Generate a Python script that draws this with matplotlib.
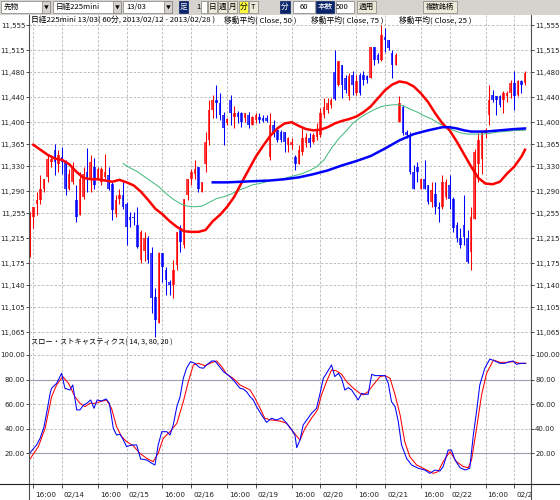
import matplotlib
matplotlib.use("Agg")
from matplotlib import pyplot as plt
from matplotlib.patches import Rectangle
from matplotlib.lines import Line2D
import matplotlib.transforms as mtransforms
import numpy as np

plt.rcParams['font.family'] = ['DejaVu Sans']
JP = ['Noto Sans CJK JP', 'DejaVu Sans']

# 60-minute bars, index 0 = first 16:00 bar (02/13)
bar_idx = np.arange(-1, 138)
opens = [11188, 11249, 11270, 11276, 11294, 11313, 11337, 11356, 11334, 11345,
         11337, 11294, 11305, 11276, 11252, 11281, 11321, 11308, 11329, 11310,
         11305, 11313, 11316, 11302, 11254, 11278, 11284, 11270, 11249, 11249,
         11236, 11180, 11195, 11215, 11191, 11121, 11079, 11191, 11164, 11145,
         11140, 11172, 11231, 11204, 11284, 11310, 11318, 11329, 11289, 11334,
         11371, 11419, 11435, 11430, 11411, 11398, 11435, 11409, 11414, 11414,
         11406, 11411, 11395, 11403, 11409, 11407, 11406, 11345, 11395, 11387,
         11385, 11385, 11364, 11364, 11345, 11334, 11353, 11366, 11374, 11369,
         11377, 11380, 11411, 11419, 11427, 11480, 11459, 11491, 11470, 11441,
         11475, 11446, 11475, 11475, 11473, 11470, 11520, 11507, 11499, 11536,
         11531, 11510, 11491, 11401, 11425, 11385, 11380, 11321, 11329, 11294,
         11310, 11300, 11273, 11286, 11265, 11265, 11281, 11300, 11278, 11236,
         11215, 11236, 11215, 11193, 11246, 11334, 11342, 11382, 11411, 11443,
         11441, 11441, 11435, 11441, 11446, 11462, 11443, 11465, 11462]
highs = [11256, 11265, 11289, 11316, 11310, 11350, 11348, 11365, 11356, 11361,
         11340, 11326, 11337, 11300, 11321, 11329, 11359, 11348, 11343, 11329,
         11329, 11349, 11329, 11305, 11284, 11294, 11305, 11273, 11257, 11257,
         11265, 11228, 11225, 11219, 11201, 11135, 11193, 11191, 11169, 11148,
         11180, 11225, 11236, 11278, 11310, 11326, 11340, 11329, 11305, 11385,
         11435, 11444, 11459, 11446, 11417, 11406, 11444, 11426, 11418, 11417,
         11414, 11417, 11410, 11414, 11414, 11411, 11411, 11414, 11403, 11390,
         11387, 11385, 11377, 11374, 11348, 11364, 11390, 11382, 11382, 11382,
         11398, 11422, 11438, 11438, 11438, 11515, 11497, 11491, 11475, 11478,
         11481, 11475, 11478, 11481, 11475, 11520, 11520, 11510, 11555, 11550,
         11531, 11515, 11510, 11441, 11427, 11387, 11385, 11332, 11337, 11310,
         11340, 11300, 11305, 11305, 11273, 11316, 11310, 11316, 11281, 11241,
         11231, 11284, 11228, 11265, 11358, 11382, 11387, 11390, 11459, 11451,
         11441, 11443, 11449, 11449, 11467, 11481, 11467, 11467, 11481]
lows = [11185, 11231, 11252, 11270, 11289, 11305, 11329, 11316, 11321, 11318,
        11284, 11292, 11302, 11241, 11252, 11278, 11289, 11289, 11294, 11308,
        11300, 11310, 11292, 11244, 11249, 11270, 11262, 11204, 11233, 11236,
        11199, 11175, 11178, 11175, 11095, 11058, 11079, 11145, 11124, 11124,
        11119, 11164, 11193, 11199, 11276, 11300, 11310, 11289, 11289, 11321,
        11364, 11406, 11406, 11403, 11364, 11395, 11395, 11390, 11398, 11393,
        11401, 11390, 11395, 11398, 11398, 11401, 11401, 11340, 11377, 11369,
        11369, 11353, 11353, 11358, 11324, 11334, 11348, 11361, 11361, 11366,
        11372, 11377, 11406, 11414, 11422, 11435, 11457, 11438, 11446, 11435,
        11443, 11443, 11443, 11459, 11462, 11470, 11491, 11494, 11497, 11512,
        11515, 11470, 11491, 11401, 11380, 11374, 11318, 11294, 11305, 11294,
        11294, 11270, 11265, 11254, 11241, 11262, 11278, 11262, 11225, 11209,
        11199, 11204, 11175, 11164, 11246, 11305, 11318, 11374, 11395, 11433,
        11411, 11425, 11414, 11433, 11438, 11419, 11441, 11446, 11459]
closes = [11252, 11265, 11276, 11294, 11310, 11342, 11342, 11337, 11348, 11337,
          11294, 11318, 11329, 11249, 11310, 11318, 11310, 11337, 11300, 11326,
          11326, 11321, 11294, 11260, 11276, 11284, 11265, 11233, 11244, 11247,
          11201, 11225, 11215, 11180, 11119, 11084, 11191, 11169, 11148, 11140,
          11164, 11225, 11209, 11278, 11310, 11321, 11325, 11294, 11305, 11369,
          11419, 11435, 11430, 11411, 11390, 11405, 11414, 11414, 11409, 11401,
          11414, 11395, 11409, 11411, 11403, 11402, 11402, 11395, 11385, 11371,
          11371, 11369, 11374, 11369, 11334, 11356, 11374, 11377, 11366, 11380,
          11388, 11414, 11424, 11430, 11435, 11437, 11497, 11459, 11451, 11473,
          11459, 11465, 11446, 11467, 11467, 11520, 11499, 11499, 11539, 11531,
          11518, 11491, 11507, 11430, 11382, 11380, 11321, 11294, 11321, 11310,
          11294, 11273, 11292, 11265, 11262, 11305, 11305, 11278, 11231, 11215,
          11204, 11217, 11177, 11249, 11353, 11371, 11385, 11387, 11435, 11435,
          11435, 11427, 11446, 11446, 11462, 11441, 11465, 11459, 11478]

# moving averages (Close 25 / 50 / 75)
ma25_x = [0, 2, 4, 6, 8, 10, 12, 14, 16, 18, 20, 22, 24, 26, 28, 30, 32, 34, 36, 38,
          40, 42, 44, 46, 48, 50, 52, 54, 56, 58, 60, 62, 64, 66, 68, 70, 72, 74, 76, 78,
          80, 82, 84, 86, 88, 90, 92, 94, 96, 98, 100, 102, 104, 106, 108, 110, 112, 114,
          116, 118, 120, 122, 124, 126, 128, 130, 132, 134, 136, 137]
ma25_v = [11364, 11356, 11348, 11342, 11340, 11333, 11321, 11311, 11309, 11309,
          11307, 11305, 11308, 11304, 11299, 11289, 11276, 11262, 11253, 11242,
          11233, 11226, 11225, 11225, 11228, 11242, 11252, 11265, 11281, 11303,
          11324, 11345, 11362, 11378, 11390, 11398, 11400, 11394, 11389, 11387,
          11388, 11392, 11398, 11402, 11405, 11409, 11416, 11425, 11438, 11451,
          11460, 11465, 11463, 11457, 11446, 11432, 11414, 11398, 11387, 11369,
          11349, 11329, 11311, 11302, 11301, 11305, 11318, 11329, 11345, 11356]
ma50_x = [25, 27, 29, 31, 33, 35, 37, 39, 41, 43, 45, 47, 49, 51, 53, 55, 57, 59, 61,
          63, 65, 67, 69, 71, 73, 75, 77, 79, 81, 83, 85, 87, 89, 91, 93, 95, 97, 99,
          101, 103, 105, 107, 109, 111, 113, 115, 117, 119, 121, 123, 125, 127, 129,
          131, 133, 135, 137]
ma50_v = [11334, 11327, 11321, 11313, 11305, 11297, 11286, 11277, 11270, 11266,
          11265, 11266, 11272, 11278, 11281, 11285, 11291, 11295, 11300, 11302,
          11305, 11308, 11309, 11312, 11315, 11318, 11323, 11329, 11340, 11358,
          11373, 11385, 11398, 11407, 11414, 11420, 11425, 11427, 11428, 11426,
          11421, 11416, 11410, 11405, 11398, 11393, 11387, 11383, 11381, 11381,
          11381, 11382, 11384, 11385, 11386, 11387, 11387]
ma75_x = [50, 54, 58, 62, 66, 70, 74, 78, 82, 86, 90, 94, 98, 102, 106, 110, 114,
          116, 118, 120, 122, 126, 130, 134, 137]
ma75_v = [11304, 11304, 11305, 11306, 11307, 11309, 11312, 11317, 11323, 11331,
          11338, 11346, 11358, 11371, 11381, 11387, 11392, 11392, 11390, 11387,
          11385, 11385, 11387, 11389, 11390]

# slow stochastics (14, 3, 80, 20)
k_x = [-1, 0.5, 0.9, 1.9, 3.0, 3.7, 4.7, 5.1, 6.5, 7.9, 8.8, 10.2, 11.0, 12.1, 13.0,
       14.0, 14.9, 16.0, 16.9, 17.8, 19.0, 20.3, 21.2, 22.3, 23.2, 24.2, 25.1, 26.0,
       27.4, 28.8, 29.9, 31.6, 33.0, 33.9, 34.8, 35.8, 37.2, 38.1, 39.0, 40.0, 40.9,
       41.8, 42.7, 43.8, 45.0, 46.4, 47.4, 48.3, 49.7, 50.6, 51.5, 53.0, 54.3, 55.7,
       57.6, 58.5, 59.4, 60.4, 61.3, 62.2, 63.6, 65.0, 66.4, 67.8, 69.2, 70.6, 72.0,
       72.9, 73.4, 74.3, 75.2, 76.2, 77.5, 78.9, 79.9, 80.8, 81.7, 83.1, 84.0, 85.0,
       85.9, 86.8, 87.8, 88.7, 89.6, 90.5, 91.5, 92.4, 93.3, 94.3, 95.2, 96.6, 98.0,
       98.9, 99.8, 100.8, 101.7, 102.6, 104.0, 105.4, 107.3, 109.1, 110.5, 111.9,
       113.3, 114.2, 115.6, 116.5, 117.5, 118.9, 120.3, 121.6, 122.6, 123.5, 124.4,
       125.8, 127.2, 128.6, 130.0, 131.4, 132.8, 133.7, 134.6, 136.0, 137.2]
k_v = [20.0, 25.4, 26.8, 32.2, 41.7, 52.5, 68.8, 72.9, 76.9, 85.1, 72.9, 71.5, 75.6,
       55.3, 55.3, 59.3, 60.7, 63.4, 56.6, 63.4, 62.6, 64.2, 60.7, 40.3, 34.9, 35.5,
       30.8, 25.4, 26.8, 26.8, 15.4, 14.6, 11.9, 10.5, 26.8, 37.6, 37.6, 34.9, 43.1,
       58.0, 66.1, 81.0, 89.2, 94.6, 93.2, 89.7, 89.2, 91.9, 95.1, 95.1, 91.9, 86.4,
       83.7, 79.7, 72.9, 72.3, 70.2, 66.1, 63.4, 58.0, 51.2, 45.2, 48.5, 47.1, 49.0,
       44.4, 39.0, 34.9, 24.6, 30.8, 43.1, 47.1, 52.5, 56.6, 68.8, 81.0, 85.1, 91.9,
       82.4, 85.1, 81.0, 71.5, 73.4, 71.5, 67.5, 63.4, 68.8, 68.0, 68.0, 84.3, 83.2,
       83.2, 83.2, 77.0, 62.0, 58.0, 45.8, 26.8, 15.9, 10.5, 7.8, 6.4, 3.7, 6.4, 5.6,
       9.2, 22.7, 22.7, 14.6, 8.3, 6.4, 7.8, 34.9, 53.9, 75.6, 89.2, 96.7, 95.1,
       93.2, 93.2, 94.6, 95.1, 92.4, 93.2, 93.2]
d_x = [-0.9, 1.4, 3.3, 5.1, 6.5, 8.2, 9.8, 11.6, 13.0, 14.4, 15.8, 17.2, 18.6, 20.4,
       21.8, 23.2, 24.6, 26.0, 27.9, 29.7, 31.6, 33.4, 34.8, 36.2, 38.1, 40.0, 41.8,
       43.2, 44.6, 46.0, 47.8, 49.7, 51.1, 52.5, 53.9, 55.7, 57.6, 60.4, 61.8, 63.2,
       64.5, 66.4, 68.7, 70.6, 72.4, 74.3, 75.7, 77.5, 79.2, 80.3, 81.7, 83.1, 84.5,
       85.9, 87.3, 89.2, 91.0, 91.9, 93.3, 94.7, 96.6, 98.0, 99.4, 100.8, 102.2,
       103.5, 104.9, 106.8, 109.6, 111.4, 112.8, 114.2, 116.1, 117.9, 119.8, 121.2,
       122.1, 123.5, 124.9, 126.3, 128.2, 130.0, 131.9, 133.7, 135.6, 137.2]
d_v = [15.4, 25.4, 40.3, 66.1, 75.6, 82.4, 77.0, 66.1, 60.7, 58.0, 60.7, 60.7, 62.0,
       63.4, 56.6, 41.7, 33.6, 29.5, 26.0, 20.0, 15.9, 13.2, 20.0, 32.2, 37.6, 44.4,
       62.0, 78.3, 91.9, 93.2, 91.3, 93.8, 95.1, 90.5, 84.3, 81.0, 75.6, 71.5, 64.7,
       56.6, 48.5, 47.1, 46.3, 44.4, 37.6, 30.8, 40.3, 48.5, 55.3, 67.5, 78.3, 87.8,
       87.0, 84.3, 78.3, 72.9, 68.8, 67.5, 70.2, 75.6, 82.4, 83.2, 81.0, 67.5, 51.2,
       29.5, 17.3, 10.5, 6.4, 3.7, 5.1, 13.2, 21.4, 13.2, 9.2, 8.3, 14.6, 40.3, 67.5,
       85.1, 95.9, 94.0, 94.0, 94.6, 93.2, 93.2]

price_ticks = [11555, 11515, 11480, 11440, 11400, 11365, 11330, 11290, 11255,
               11215, 11175, 11140, 11105, 11065]
price_labels = ['11,555', '11,515', '11,480', '11,440', '11,400', '11,365', '11,330',
                '11,290', '11,255', '11,215', '11,175', '11,140', '11,105', '11,065']
stoch_ticks = [100, 80, 60, 40, 20]
stoch_labels = ['100.00', '80.00', '60.00', '40.00', '20.00']
time_ticks = [0, 8, 18, 26, 36, 44, 54, 62, 72, 80, 90, 98, 108, 116, 126, 134]
time_labels = ['16:00', '02/14', '16:00', '02/15', '16:00', '02/16', '16:00', '02/19',
               '16:00', '02/20', '16:00', '02/21', '16:00', '02/22', '16:00', '02/2']

W, H = 560.0, 500.0
def fx(px):
    return px / W
def fy(py):
    return 1 - py / H

fig = plt.figure(figsize=(5.6, 5.0), dpi=100)
fig.patch.set_facecolor('white')

X0, X1 = 29.3, 531.0
ax = fig.add_axes([fx(X0), fy(338), fx(X1) - fx(X0), fy(15) - fy(338)])
ax2 = fig.add_axes([fx(X0), fy(484.3), fx(X1) - fx(X0), fy(338) - fy(484.3)], sharex=ax)

grid_kw = dict(color='#b4b4b4', linestyle=(0, (3, 2)), linewidth=0.6)

# candles: red = up, blue = down
o, h, l, c = map(np.array, (opens, highs, lows, closes))
col = np.where(c >= o, '#ff0000', '#0000ff')
ax.vlines(bar_idx, l, h, colors=col, linewidth=0.75, zorder=3)
ax.bar(bar_idx, np.maximum(np.abs(c - o), 1.6), bottom=np.minimum(o, c), width=0.72,
       color=col, alpha=0.75, linewidth=0, zorder=3)

ax.plot(ma50_x, ma50_v, color='#3cb878', lw=0.7, zorder=4)
ax.plot(ma25_x, ma25_v, color='#ff0000', lw=1.8, zorder=5)
ax.plot(ma75_x, ma75_v, color='#0000ff', lw=1.8, zorder=5)

ax.set_xlim(-1.11, 138.67)
ax.set_ylim(11055.7, 11571)

# stochastics
ax2.axhline(80, color='#a09cb0', lw=0.8, zorder=2)
ax2.axhline(20, color='#a09cb0', lw=0.8, zorder=2)
ax2.plot(d_x, d_v, color='#ff0000', lw=0.75, zorder=4)
ax2.plot(k_x, k_v, color='#0000ff', lw=0.75, zorder=4)
ax2.set_ylim(-5.2, 113.8)

for a in (ax, ax2):
    for s in a.spines.values():
        s.set_visible(False)
    a.set_axisbelow(True)
    a.grid(True, **grid_kw)
    a.tick_params(axis='y', left=True, right=True, labelleft=True, labelright=True,
                  length=2.2, width=0.6, color='#303030', labelcolor='#202020',
                  labelsize=5.0, pad=0.8)

ax.set_yticks(price_ticks, price_labels)
ax2.set_yticks(stoch_ticks, stoch_labels)
ax2.set_xticks(time_ticks, time_labels)
ax.tick_params(axis='x', bottom=False, labelbottom=False)
ax2.tick_params(axis='x', bottom=True, length=3, width=0.6, color='#303030',
                labelcolor='#202020', labelsize=5.2, pad=2.5)
shift = mtransforms.ScaledTranslation(2 / 100, 0, fig.dpi_scale_trans)
for lbl in ax2.get_xticklabels():
    lbl.set_ha('left')
    lbl.set_transform(lbl.get_transform() + shift)

# frame lines
fig.add_artist(Line2D([fx(X0), fx(X0)], [fy(15), fy(500)], color='#505050', lw=0.8))
fig.add_artist(Line2D([fx(X1), fx(X1)], [fy(15), fy(500)], color='#505050', lw=0.8))
fig.add_artist(Line2D([0, 1], [fy(484.3), fy(484.3)], color='#202020', lw=0.8))

# panel captions
fig.text(fx(31), fy(20), '日経225mini 13/03( 60分, 2013/02/12 - 2013/02/28 )',
         fontsize=5.6, family=JP, va='center')
fig.text(fx(224), fy(20), '移動平均( Close, 50 )', fontsize=5.6, family=JP, va='center')
fig.text(fx(311), fy(20), '移動平均( Close, 75 )', fontsize=5.6, family=JP, va='center')
fig.text(fx(399), fy(20), '移動平均( Close, 25 )', fontsize=5.6, family=JP, va='center')
fig.text(fx(31), fy(342), 'スロー・ストキャスティクス( 14, 3, 80, 20 )',
         fontsize=5.2, family=JP, va='center')

# toolbar strip
fig.add_artist(Rectangle((0, fy(14.5)), 1, 14.5 / H, facecolor='#d6d3ce', edgecolor='none'))

def box(x0, x1, face, edge='#808080'):
    fig.add_artist(Rectangle((fx(x0), fy(12.5)), fx(x1) - fx(x0), 11 / H,
                             facecolor=face, edgecolor=edge, linewidth=0.5))

def tb_text(x, s, color='black', ha='left', size=5.5):
    fig.text(fx(x), fy(7.2), s, color=color, ha=ha, va='center', fontsize=size, family=JP)

for x0, x1, s in [(1, 50, '先物'), (53, 121, '日経225mini'), (123, 172, '13/03')]:
    box(x0, x1, 'white')
    tb_text(x0 + 3, s)
    box(x1 - 8.5, x1, '#d6d3ce')
    tb_text(x1 - 4.2, '▼', ha='center', size=3.5)

box(179, 188, '#0a246a', edge='#0a246a')
tb_text(183.5, '足', color='white', ha='center')
tb_text(196, '1')
box(201, 207, 'white')
for x0, s, face in [(208, '日', '#ece9d8'), (218, '週', '#ece9d8'), (228, '月', '#ece9d8'),
                    (239, '分', '#ffff40'), (249, 'T', '#ece9d8')]:
    box(x0, x0 + 9, face)
    tb_text(x0 + 4.5, s, ha='center')
box(280, 290, '#0a246a', edge='#0a246a')
tb_text(285, '分', color='white', ha='center')
box(293, 315, 'white')
tb_text(308, '60', ha='right')
box(316, 334, '#0a246a', edge='#0a246a')
tb_text(325, '本数', color='white', ha='center')
box(336, 354, 'white')
tb_text(349, '500', ha='right')
box(357, 376, '#ece9d8')
tb_text(366.5, '適用', ha='center')
box(423, 457, '#ece9d8')
tb_text(440, '複数銘柄', ha='center', size=5.0)

fig.savefig('out.png', dpi=100)
